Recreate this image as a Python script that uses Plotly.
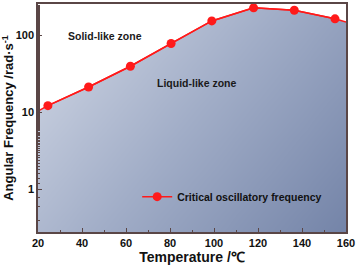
import numpy as np
import plotly.graph_objects as go

temperature = [24.5, 43, 62, 80.5, 99, 118, 136.5, 155]
frequency = [12.3, 21.5, 40, 79, 155, 229, 213, 165]
x_ticks = [20, 40, 60, 80, 100, 120, 140, 160]
series_name = "Critical oscillatory frequency"

X_MIN, X_MAX = 20, 160
LOG_MIN, LOG_MAX = -0.55, 2.41

fig = go.Figure()

# gradient background (liquid-like zone)
gx = np.linspace(X_MIN, X_MAX, 40)
gly = np.linspace(LOG_MIN, LOG_MAX, 40)
xn = (gx - X_MIN) / (X_MAX - X_MIN)
yn = (gly - LOG_MIN) / (LOG_MAX - LOG_MIN)
Z = 0.70 * xn[None, :] + 0.42 * (1 - yn[:, None])
fig.add_trace(go.Heatmap(
    x=gx, y=10 ** gly, z=Z, zsmooth="best", showscale=False, hoverinfo="skip",
    colorscale=[[0, "#d3d9e6"], [0.5, "#a1adc7"], [1, "#7484a8"]],
))

# extended line to the plot edges
ext_x = [X_MIN] + temperature + [X_MAX]
ext_y = [10.5] + frequency + [150]

# white solid-like zone above the line
fig.add_trace(go.Scatter(x=ext_x, y=[10 ** LOG_MAX] * len(ext_x), mode="lines",
                         line=dict(width=0), showlegend=False, hoverinfo="skip"))
fig.add_trace(go.Scatter(x=ext_x, y=ext_y, mode="lines", line=dict(width=0),
                         fill="tonexty", fillcolor="white", showlegend=False, hoverinfo="skip"))

fig.add_trace(go.Scatter(x=ext_x, y=ext_y, mode="lines", line=dict(color="#ff1a1a", width=1.5),
                         showlegend=False, hoverinfo="skip"))
fig.add_trace(go.Scatter(x=temperature, y=frequency, mode="lines+markers",
                         name=f"<b>{series_name}</b>",
                         line=dict(color="#ff1a1a", width=1.5),
                         marker=dict(color="#ff1a1a", size=9)))

fig.add_annotation(x=0.217, y=0.861, xref="paper", yref="paper", xanchor="center", yanchor="middle",
                   text="<b>Solid-like zone</b>",
                   showarrow=False, font=dict(size=10.5, color="#1a1a1a", family="Liberation Sans"))
fig.add_annotation(x=0.515, y=0.652, xref="paper", yref="paper", xanchor="center", yanchor="middle",
                   text="<b>Liquid-like zone</b>",
                   showarrow=False, font=dict(size=10.5, color="#1a1a1a", family="Liberation Sans"))

axis_col = "#5a4646"
fig.update_layout(
    width=357, height=265,
    margin=dict(l=38, r=10, t=2, b=33),
    paper_bgcolor="white", plot_bgcolor="white",
    font=dict(family="Liberation Sans", size=11, color="#111111"),
    showlegend=True,
    legend=dict(x=0.322, y=0.155, xanchor="left", yanchor="middle", bgcolor="rgba(0,0,0,0)",
                font=dict(size=10.5, family="Liberation Sans"), itemwidth=30),
    xaxis=dict(range=[X_MIN, X_MAX], tickvals=x_ticks, ticks="inside", ticklen=4,
               ticktext=[f"<b>{v}</b>" for v in x_ticks],
               minor=dict(dtick=10, ticks="inside", ticklen=2, tickcolor=axis_col),
               tickcolor=axis_col, showline=True, linecolor=axis_col, linewidth=1.5, mirror=True,
               showgrid=False, zeroline=False,
               tickfont=dict(size=11, family="Liberation Sans"),
               title=dict(text="<b>Temperature /℃</b>", font=dict(size=14), standoff=3)),
    yaxis=dict(type="log", range=[LOG_MIN, LOG_MAX], tickvals=[1, 10, 100],
               ticktext=["<b>1</b>", "<b>10</b>", "<b>100</b>"],
               ticks="inside", ticklen=4, tickcolor=axis_col,
               minor=dict(ticks="inside", ticklen=2, tickcolor=axis_col),
               showline=True, linecolor=axis_col, linewidth=1.5, mirror=True,
               showgrid=False, zeroline=False,
               tickfont=dict(size=11, family="Liberation Sans"),
               title=dict(text="<b>Angular Frequency /rad·s<sup>-1</sup></b>", font=dict(size=13), standoff=2)),
)

fig.write_html("out.html", post_script="document.body.style.margin='0px';",
               config={"displayModeBar": False})
